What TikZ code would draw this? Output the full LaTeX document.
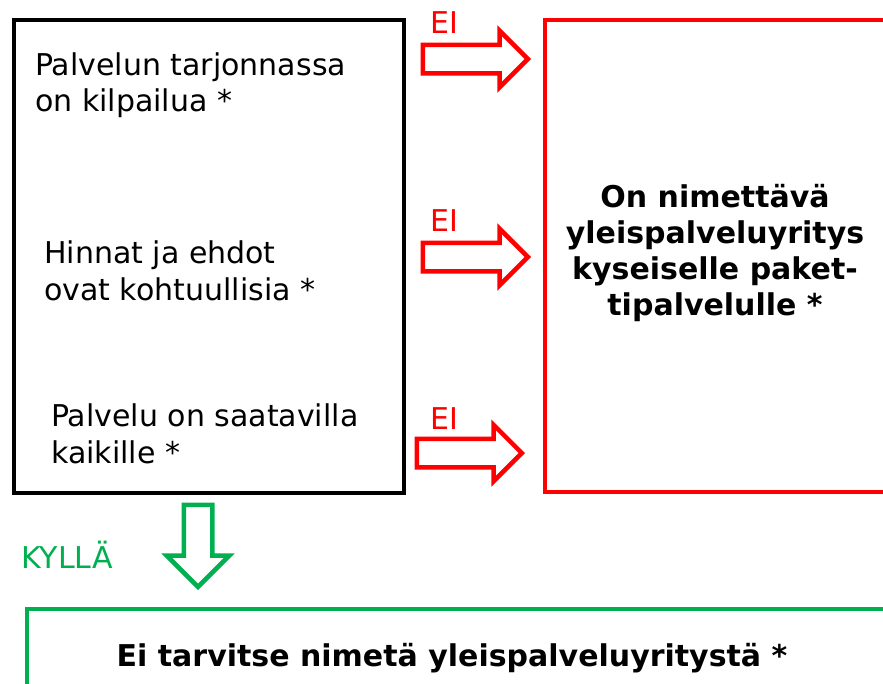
\documentclass[tikz,border=0pt]{standalone}
\usepackage{fontspec}
\setmainfont{DejaVu Sans}
\usetikzlibrary{shapes.arrows}

\definecolor{eired}{RGB}{255,0,0}
\definecolor{kyllagreen}{RGB}{0,176,80}

\tikzset{
  ehto/.style={anchor=base west,align=left,inner sep=0pt,font=\fontsize{30}{36.5}\selectfont},
  tulos/.style={anchor=base,align=center,inner sep=0pt,font=\fontsize{30}{35.7}\selectfont\bfseries},
  nuoli/.style={single arrow,draw,line width=4.5pt,inner sep=12pt,single arrow head extend=14pt,
    minimum height=105pt,anchor=tip},
  vastaus/.style={anchor=base west,inner sep=0pt,font=\fontsize{30}{32}\selectfont}
}

\begin{document}
\begin{tikzpicture}[x=1pt,y=-1pt]
\useasboundingbox (0,0) rectangle (883,683);
\clip (0,0) rectangle (883,683);

% ehtolaatikko
\draw[line width=4.5pt] (14,20) rectangle (404,493);
\node[ehto] (kilpailu) at (35,111.5) {Palvelun tarjonnassa\\on kilpailua *};
\node[ehto] (hinnat) at (44,300) {Hinnat ja ehdot\\ovat kohtuullisia *};
\node[ehto] (saatavuus) at (51,463) {Palvelu on saatavilla\\kaikille *};

% punainen laatikko
\draw[eired,line width=4.5pt] (545,20) rectangle (900,492);
\node[tulos] (nimetaan) at (715,315) {On nimettävä\\yleispalveluyritys\\kyseiselle paket-\\tipalvelulle *};

% EI-nuolet
\node[nuoli,draw=eired] (ei1) at (531,59) {};
\node[nuoli,draw=eired] (ei2) at (531,257) {};
\node[nuoli,draw=eired] (ei3) at (525,453) {};
\node[vastaus,text=eired] (ei1t) at (430,33) {EI};
\node[vastaus,text=eired] (ei2t) at (430,231) {EI};
\node[vastaus,text=eired] (ei3t) at (430,429) {EI};

% KYLLÄ-nuoli
\node[nuoli,draw=kyllagreen,shape border rotate=270,minimum height=82pt,
  single arrow head extend=17pt] (kylla) at (198,590) {};
\node[vastaus,text=kyllagreen] (kyllat) at (21,568) {KYLLÄ};

% vihreä laatikko
\draw[kyllagreen,line width=4.5pt] (27,609) rectangle (900,700);
\node[tulos] (eitarvitse) at (452,666) {Ei tarvitse nimetä yleispalveluyritystä *};

\end{tikzpicture}
\end{document}
